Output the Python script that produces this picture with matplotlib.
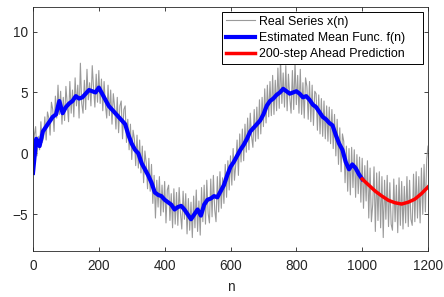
import numpy as np
import matplotlib
matplotlib.use("Agg")
import matplotlib.pyplot as plt

plt.rcParams['font.family'] = ['Liberation Sans', 'DejaVu Sans']

# real series x(n), read every 4 samples
n_real = np.arange(0, 1201, 4)
x_real = [
    -1.7, 1.5, 2.2, -0.2, 1.4, 0.3, 2.6, 0.9, 1.3, 3.0,
    1.1, 3.4, 2.9, 1.5, 4.2, 3.6, 1.8, 4.7, 2.9, 5.6,
    3.2, 5.1, 2.4, 4.6, 2.7, 5.5, 4.1, 2.6, 5.9, 3.3,
    5.2, 3.0, 6.2, 3.9, 5.6, 2.9, 7.4, 4.1, 3.3, 6.0,
    3.6, 6.9, 4.4, 5.8, 3.9, 7.2, 5.4, 3.8, 6.5, 4.2,
    6.8, 4.1, 6.1, 3.5, 5.9, 4.0, 2.9, 5.6, 3.1, 5.2,
    2.4, 4.9, 3.8, 2.0, 4.6, 1.7, 3.9, 4.3, 1.2, 3.6,
    3.9, 0.9, 2.8, 0.3, 2.4, -0.5, 1.9, 1.2, -1.0, 1.5,
    -1.2, 1.1, -1.6, 0.6, -2.4, 0.2, -0.8, -2.9, -0.4, -3.1,
    -0.9, -4.1, -1.8, -5.3, -2.2, -4.4, -1.9, -5.1, -2.6, -4.8,
    -2.3, -5.7, -3.0, -2.6, -5.5, -3.3, -6.1, -2.9, -5.8, -3.2,
    -5.9, -2.8, -4.9, -6.2, -3.1, -5.4, -3.3, -6.6, -3.7, -6.3,
    -4.0, -6.9, -3.5, -6.1, -3.0, -6.4, -3.9, -6.7, -2.8, -5.6,
    -2.6, -5.8, -2.2, -4.9, -5.7, -2.1, -5.2, -1.8, -4.6, -5.6,
    -1.9, -4.8, -1.5, -4.5, -2.0, -4.1, -0.9, -3.6, -0.6, -3.0,
    -0.2, -2.6, 0.4, -2.2, -0.9, 1.1, -1.8, 1.6, -0.7, 2.0,
    -0.6, 2.4, 0.1, 2.9, 0.3, 3.3, 1.4, 0.5, 3.6, 1.0,
    3.8, 1.2, 4.4, 1.6, 4.6, 2.2, 5.3, 2.5, 5.6, 3.0,
    5.9, 3.1, 6.4, 3.2, 6.0, 3.5, 7.0, 3.7, 7.7, 4.1,
    6.6, 3.8, 7.2, 3.5, 6.5, 4.6, 3.3, 6.8, 3.6, 7.5,
    4.0, 6.4, 3.3, 6.9, 3.2, 5.8, 2.9, 6.2, 5.5, 2.8,
    5.9, 2.6, 5.6, 2.3, 5.1, 4.9, 1.9, 4.8, 1.6, 4.5,
    1.4, 4.3, 1.2, 3.9, 1.0, 3.8, 0.8, 3.6, 0.4, 3.2,
    -0.2, 2.8, -0.9, 2.1, -1.5, 1.6, 1.0, -2.4, 0.6, -3.1,
    0.4, -3.4, 0.5, -2.8, 0.3, -3.6, -0.1, -3.3, -0.3, -4.0,
    -0.4, -4.5, -1.0, -3.9, -0.6, -5.3, -1.2, -5.6, -4.2, -1.1,
    -6.4, -1.6, -5.5, -1.5, -6.1, -1.9, -6.9, -2.2, -5.4, -1.8,
    -6.0, -2.4, -5.8, -6.3, -2.1, -5.6, -2.6, -6.5, -2.0, -5.9,
    -2.3, -6.2, -2.7, -5.7, -1.9, -6.0, -2.2, -5.4, -5.9, -1.7,
    -5.6, -1.5, -5.3, -1.9, -5.7, -1.2, -5.0, -0.9, -4.8, -0.5,
    0.6,
]

# estimated mean function f(n), every 10 samples
n_mean = np.arange(0, 1001, 10)
f_mean = [
    -1.6, 1.2, 0.6, 1.8, 2.2, 2.6, 3.0, 3.2, 4.3, 3.3,
    3.8, 4.1, 4.3, 4.7, 4.5, 4.6, 4.9, 5.2, 5.1, 5.0,
    5.4, 4.9, 4.4, 3.9, 3.6, 3.3, 3.0, 2.7, 2.4, 1.5,
    0.8, 0.3, 0.0, -0.8, -1.3, -1.8, -2.4, -3.2, -3.4, -3.5,
    -3.8, -4.0, -4.2, -4.6, -4.4, -4.3, -4.6, -5.0, -5.4, -5.0,
    -4.6, -5.1, -4.2, -3.8, -3.7, -3.5, -3.6, -3.1, -2.6, -1.8,
    -1.1, -0.7, -0.2, 0.3, 0.7, 1.2, 1.8, 2.1, 2.4, 2.7,
    3.2, 3.9, 4.3, 4.5, 4.8, 5.0, 5.3, 5.1, 4.9, 5.0,
    5.1, 4.9, 4.6, 4.7, 4.4, 4.0, 3.8, 3.4, 3.0, 2.8,
    2.5, 2.3, 1.5, 0.8, 0.3, -0.7, -1.3, -0.9, -1.2, -1.7,
    -2.1,
]

# 200-step ahead prediction
n_pred = np.arange(1000, 1201, 20)
x_pred = [-2.1, -2.6, -3.1, -3.5, -3.85, -4.05, -4.15, -4.0, -3.75, -3.3, -2.75]

fig = plt.figure(figsize=(4.44, 2.97), dpi=100)
ax = fig.add_axes([0.0743, 0.155, 0.8897, 0.821])

ax.plot(n_real, x_real, color='#9a9a9a', lw=0.8, label='Real Series x(n)')
ax.plot(n_mean, f_mean, color='#0000ff', lw=3, label='Estimated Mean Func. f(n)')
ax.plot(n_pred, x_pred, color='#ff0000', lw=2.5, label='200-step Ahead Prediction')

ax.set_xlim(0, 1200)
ax.set_ylim(-8, 12)
ax.set_xticks([0, 200, 400, 600, 800, 1000, 1200])
ax.set_yticks([-5, 0, 5, 10])
ax.tick_params(direction='in', top=True, right=True, labelsize=9.8,
               colors='#262626', length=3, width=0.6)
ax.tick_params(axis='x', pad=6)
for s in ax.spines.values():
    s.set_color('#262626')
    s.set_linewidth(0.6)
ax.set_xlabel('n', fontsize=9.8, color='#262626', labelpad=5)

leg = ax.legend(loc='upper left', bbox_to_anchor=(0.478, 0.98, 0.509, 0.0),
                mode='expand', borderaxespad=0, fontsize=8.9, fancybox=False,
                framealpha=1, edgecolor='black', handlelength=2.4,
                handletextpad=0.3, labelspacing=0.35, borderpad=0.3)
leg.get_frame().set_linewidth(0.7)

fig.savefig('out.png', dpi=100)
